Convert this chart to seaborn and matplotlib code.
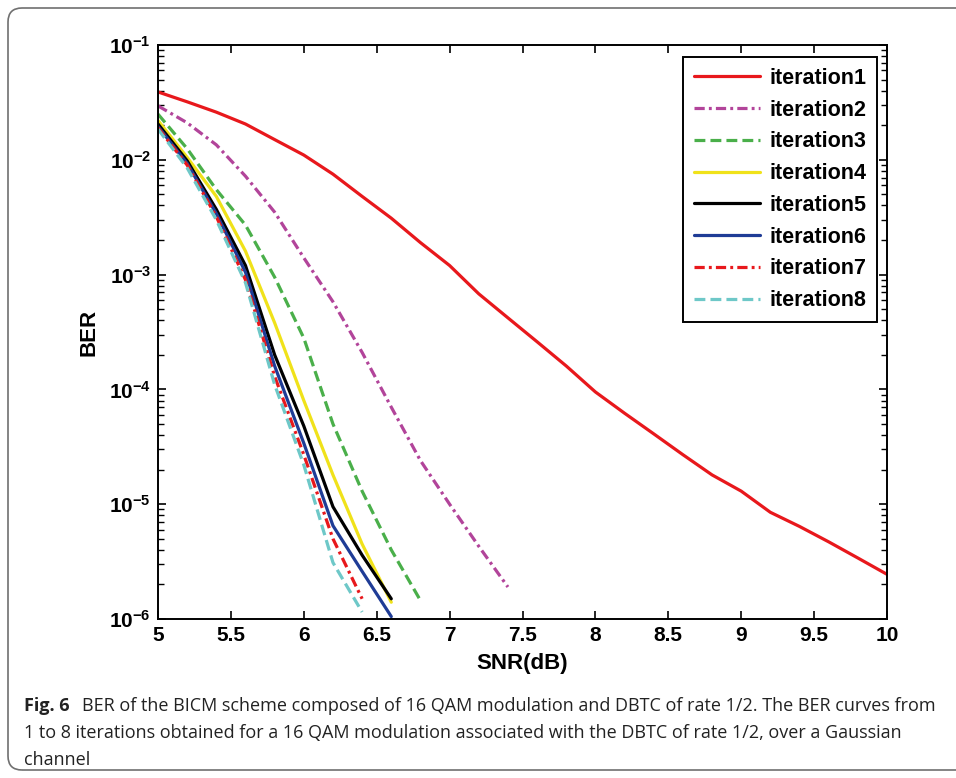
import numpy as np
import pandas as pd
import matplotlib
matplotlib.use("Agg")
import matplotlib.pyplot as plt
import seaborn as sns
from matplotlib.patches import FancyBboxPatch
from matplotlib.transforms import IdentityTransform
from matplotlib.ticker import FixedLocator, LogLocator, NullFormatter

# ---------------- data ----------------
snr1 = [5.0, 5.2, 5.4, 5.6, 5.8, 6.0, 6.2, 6.4, 6.6, 6.8, 7.0, 7.2, 7.4, 7.6, 7.8,
        8.0, 8.2, 8.4, 8.6, 8.8, 9.0, 9.2, 9.4, 9.6, 9.8, 10.0]
ber1 = [0.039, 0.032, 0.026, 0.0205, 0.015, 0.011, 0.0075, 0.0048, 0.0031, 0.0019,
        0.0012, 0.00068, 0.00042, 0.00026, 0.00016, 9.5e-5, 6.2e-5, 4.1e-5, 2.7e-5,
        1.8e-5, 1.3e-5, 8.5e-6, 6.4e-6, 4.7e-6, 3.4e-6, 2.45e-6]
snr2 = [5.0, 5.2, 5.4, 5.6, 5.8, 6.0, 6.2, 6.4, 6.6, 6.8, 7.0, 7.2, 7.4]
ber2 = [0.0295, 0.021, 0.0135, 0.0072, 0.0035, 0.0014, 0.00058, 0.00021, 7e-5,
        2.4e-5, 1.0e-5, 4.3e-6, 1.9e-6]
snr3 = [5.0, 5.2, 5.4, 5.6, 5.8, 6.0, 6.2, 6.4, 6.6, 6.8]
ber3 = [0.025, 0.0125, 0.0055, 0.0027, 0.00095, 0.00028, 5e-5, 1.3e-5, 4e-6, 1.45e-6]
snr4 = [5.0, 5.2, 5.4, 5.6, 5.8, 6.0, 6.2, 6.4, 6.6]
ber4 = [0.022, 0.0105, 0.0048, 0.0016, 0.00038, 8e-5, 1.8e-5, 4.5e-6, 1.4e-6]
snr5 = [5.0, 5.2, 5.4, 5.6, 5.8, 6.0, 6.2, 6.4, 6.6]
ber5 = [0.0205, 0.0098, 0.0037, 0.0012, 0.0002, 4.8e-5, 9.5e-6, 3.6e-6, 1.5e-6]
snr6 = [5.0, 5.2, 5.4, 5.6, 5.8, 6.0, 6.2, 6.4, 6.6]
ber6 = [0.0195, 0.0093, 0.0034, 0.00105, 0.00016, 3.4e-5, 6.5e-6, 2.6e-6, 1.05e-6]
snr7 = [5.0, 5.2, 5.4, 5.6, 5.8, 6.0, 6.2, 6.4]
ber7 = [0.019, 0.009, 0.0032, 0.0009, 0.00013, 2.7e-5, 5e-6, 1.5e-6]
snr8 = [5.0, 5.2, 5.4, 5.6, 5.8, 6.0, 6.2, 6.4]
ber8 = [0.0185, 0.0085, 0.003, 0.00085, 0.00011, 2.2e-5, 3.1e-6, 1.15e-6]

series_names = ["iteration1", "iteration2", "iteration3", "iteration4",
                "iteration5", "iteration6", "iteration7", "iteration8"]
series_x = [snr1, snr2, snr3, snr4, snr5, snr6, snr7, snr8]
series_y = [ber1, ber2, ber3, ber4, ber5, ber6, ber7, ber8]

x_ticks = [5, 5.5, 6, 6.5, 7, 7.5, 8, 8.5, 9, 9.5, 10]
x_tick_labels = ["5", "5.5", "6", "6.5", "7", "7.5", "8", "8.5", "9", "9.5", "10"]
y_ticks = [1e-6, 1e-5, 1e-4, 1e-3, 1e-2, 1e-1]
y_tick_labels = [r"$\mathbf{10^{-6}}$", r"$\mathbf{10^{-5}}$", r"$\mathbf{10^{-4}}$",
                 r"$\mathbf{10^{-3}}$", r"$\mathbf{10^{-2}}$", r"$\mathbf{10^{-1}}$"]

caption_bold = "Fig. 6"
caption_lines = [
    "BER of the BICM scheme composed of 16 QAM modulation and DBTC of rate 1/2. The BER curves from",
    "1 to 8 iterations obtained for a 16 QAM modulation associated with the DBTC of rate 1/2, over a Gaussian",
    "channel",
]

# ---------------- styles ----------------
colors = ["#e8181c", "#b2449a", "#4aaf4a", "#f0e21a", "#000000", "#1f3c96", "#e8181c", "#6ec8c8"]
dashes = ["-", (0, (3.2, 1.3, 0.9, 1.3)), (0, (3.4, 1.6)), "-", "-", "-",
          (0, (3.2, 1.3, 0.9, 1.3)), (0, (3.4, 1.6))]

sns.set_style("ticks")
plt.rcParams["font.family"] = ["Liberation Sans", "DejaVu Sans"]
plt.rcParams["mathtext.fontset"] = "custom"
plt.rcParams["mathtext.bf"] = "Liberation Sans:bold"
plt.rcParams["mathtext.rm"] = "Liberation Sans:bold"
for key in ["text.color", "axes.labelcolor", "xtick.color", "ytick.color",
            "xtick.labelcolor", "ytick.labelcolor", "legend.labelcolor"]:
    plt.rcParams[key] = "black"

W, H = 956, 778
fig = plt.figure(figsize=(W / 100, H / 100), dpi=100)
ax = fig.add_axes([158 / W, 1 - 619 / H, (887 - 158) / W, (619 - 45) / H])

for name, xs, ys, c, d in zip(series_names, series_x, series_y, colors, dashes):
    df = pd.DataFrame({"SNR": xs, "BER": ys})
    sns.lineplot(data=df, x="SNR", y="BER", ax=ax, color=c, linestyle=d,
                 linewidth=2.3, label=name, sort=False)

ax.set_yscale("log")
ax.set_xlim(5, 10)
ax.set_ylim(1e-6, 1e-1)
ax.set_xticks(x_ticks)
ax.set_xticklabels(x_tick_labels, fontsize=15, fontweight="bold", color="black")
ax.yaxis.set_major_locator(FixedLocator(y_ticks))
ax.set_yticklabels(y_tick_labels, fontsize=15, color="black")
ax.yaxis.set_minor_locator(LogLocator(base=10, subs=np.arange(2, 10), numticks=20))
ax.yaxis.set_minor_formatter(NullFormatter())

ax.tick_params(axis="both", which="major", direction="in", length=6, width=1.2,
               top=True, right=True, colors="black", pad=5)
ax.tick_params(axis="y", which="minor", direction="in", length=4, width=1.0,
               left=True, right=True, colors="black")
for s in ax.spines.values():
    s.set_linewidth(1.4)
    s.set_color("black")
    s.set_visible(True)

ax.set_xlabel("SNR(dB)", fontsize=16, fontweight="bold", labelpad=6, color="black")
ax.set_ylabel("BER", fontsize=16, fontweight="bold", labelpad=7, color="black")

leg = ax.legend(loc="upper right", bbox_to_anchor=(0.986, 0.979),
                prop={"weight": "bold", "size": 15.5}, frameon=True, fancybox=False,
                handlelength=3.1, handletextpad=0.4, labelspacing=0.5,
                borderpad=0.5, borderaxespad=0, labelcolor="black")
leg.get_frame().set_edgecolor("black")
leg.get_frame().set_linewidth(1.4)
leg.get_frame().set_alpha(1)

# border of the figure panel
border = FancyBboxPatch((8, 8), 1000, 762, boxstyle="round,pad=0,rounding_size=14",
                        transform=IdentityTransform(), facecolor="none",
                        edgecolor="#707070", linewidth=1.2)
fig.patches.append(border)

# caption
cap_font = ["Open Sans", "DejaVu Sans"]
cap_size = 13
cap_color = "#222222"
fig.canvas.draw()
renderer = fig.canvas.get_renderer()
y0 = 1 - 706 / H
t_bold = fig.text(24 / W, y0, caption_bold, fontsize=cap_size, fontweight="bold",
                  family=cap_font, va="center", ha="left", color=cap_color)
bb = t_bold.get_window_extent(renderer)
fig.text((bb.x1 + 12) / W, y0, caption_lines[0], fontsize=cap_size, family=cap_font,
         va="center", ha="left", color=cap_color)
fig.text(24 / W, 1 - 733 / H, caption_lines[1], fontsize=cap_size, family=cap_font,
         va="center", ha="left", color=cap_color)
fig.text(24 / W, 1 - 760 / H, caption_lines[2], fontsize=cap_size, family=cap_font,
         va="center", ha="left", color=cap_color)

fig.savefig("out.png", dpi=100)
